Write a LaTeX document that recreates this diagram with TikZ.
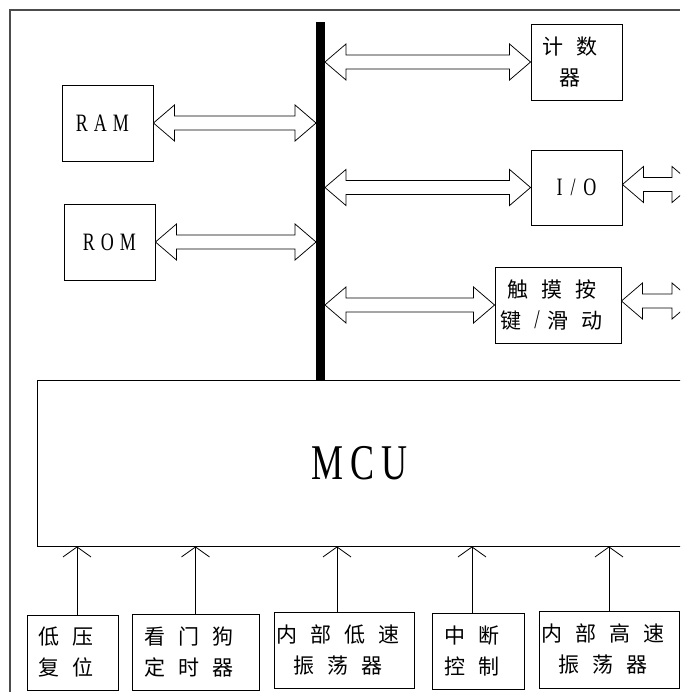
\documentclass[tikz,border=0pt]{standalone}
\usepackage{fontspec}
\newfontfamily\cjk{Noto Sans CJK SC}
\newfontfamily\lat[FakeStretch=0.72]{Liberation Serif}
\usetikzlibrary{arrows.meta,calc}
\newcommand\gp{\kern13pt}
\newcommand\dblarr[2]{\draw[dbl] let \p1=#1, \p2=#2 in
  (\x1,\y1) -- (\x1+21pt,\y1+18pt) -- (\x1+21pt,\y1+7pt) -- (\x2-21pt,\y1+7pt) -- (\x2-21pt,\y1+18pt)
  -- (\x2,\y1) -- (\x2-21pt,\y1-18pt) -- (\x2-21pt,\y1-7pt) -- (\x1+21pt,\y1-7pt) -- (\x1+21pt,\y1-18pt) -- cycle;}
\begin{document}
\begin{tikzpicture}[x=1pt,y=-1pt,
  box/.style={draw=black, line width=0.9pt, inner sep=0pt, align=center, font=\cjk\fontsize{21}{31}\selectfont},
  latbox/.style={box, font=\lat\fontsize{25}{28}\selectfont},
  dbl/.style={draw=black, line width=0.75pt, fill=white, line join=miter},
  up/.style={draw=black, line width=0.8pt, -{Straight Barb[length=10pt,width=28pt]}},
  frame/.style={draw=black!70, line width=1.3pt}]
\useasboundingbox (0,0) rectangle (680,692);
\clip (0,0) rectangle (680,692);
\draw[frame] (10,692) -- (10,10) -- (680,10);

% bus
\node[fill=black, inner sep=0pt, minimum width=8.5, minimum height=358] (bus) at (320.5,201) {};

% memory
\node[latbox, minimum width=91, minimum height=76] (ram) at (107.5,123) {R\kern6pt A\kern6pt M\kern10pt};
\node[latbox, minimum width=91, minimum height=76] (rom) at (109.5,242) {R\kern6pt O\kern6pt M};

% peripherals
\node[box, minimum width=91, minimum height=76] (cnt) at (576.5,62) {计\gp 数\gp\\器\gp};
\node[latbox, minimum width=91, minimum height=75] (io) at (576.5,187.5) {I\kern8pt/\kern8pt O};
\node[box, minimum width=126, minimum height=76] (touch) at (558,305) {触\gp 摸\gp 按\gp\\键\gp{\lat\fontsize{27}{27}\selectfont /}\kern8pt 滑\gp 动\gp};

% MCU
\node[box, minimum width=645, minimum height=166, font=\lat\fontsize{50}{60}\selectfont] (mcu) at (359.5,463) {M\kern7pt C\kern7pt U};

% bottom blocks
\node[box, minimum width=91, minimum height=75] (b1) at (72.5,652.5) {低\gp 压\gp\\复\gp 位\gp};
\node[box, minimum width=127, minimum height=76] (b2) at (195.5,652) {看\gp 门\gp 狗\gp\\定\gp 时\gp 器\gp};
\node[box, minimum width=140, minimum height=76] (b3) at (344,650) {内\gp 部\gp 低\gp 速\gp\\振\gp 荡\gp 器\gp};
\node[box, minimum width=92, minimum height=76] (b4) at (478,651) {中\gp 断\gp\\控\gp 制\gp};
\node[box, minimum width=140, minimum height=77] (b5) at (609,649.5) {内\gp 部\gp 高\gp 速\gp\\振\gp 荡\gp 器\gp};

% bus arrows
\dblarr{(ram.east)}{(bus.west)}
\dblarr{(rom.east)}{(bus.west)}
\dblarr{(cnt.west -| bus.east)}{(cnt.west)}
\dblarr{(io.west -| bus.east)}{(io.west)}
\dblarr{(touch.west -| bus.east)}{(touch.west)}
\coordinate (rend) at (693,0);
\dblarr{([yshift=3pt]io.east)}{(rend)}
\dblarr{([yshift=4pt]touch.east)}{(rend)}

% inputs to MCU
\coordinate (t1) at ([xshift=4.5pt]b1.north);
\coordinate (t2) at (b2.north);
\coordinate (t3) at ([xshift=-7pt]b3.north);
\coordinate (t4) at ([xshift=-6pt]b4.north);
\coordinate (t5) at (b5.north);
\foreach \t in {t1,t2,t3,t4,t5} \draw[up] (\t) -- (\t |- mcu.south);
\end{tikzpicture}
\end{document}
